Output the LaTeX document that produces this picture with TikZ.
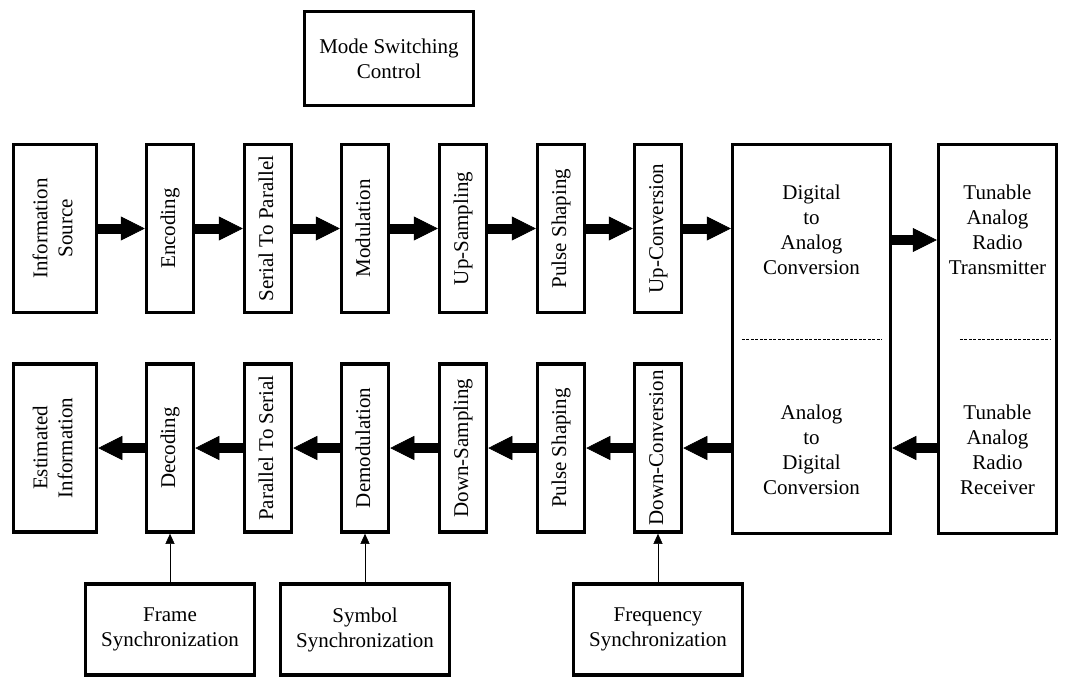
\documentclass[tikz,border=0pt]{standalone}
\usepackage{fontspec}
\setmainfont{Liberation Serif}
\usetikzlibrary{arrows.meta,positioning}
\newcommand{\vlabel}[1]{\rotatebox{90}{\begin{tabular}{@{}c@{}}#1\end{tabular}}}

\begin{document}
\begin{tikzpicture}[
  x=1pt, y=-1pt,
  every node/.style={font=\fontsize{21}{25}\selectfont, align=center},
  box/.style={draw, line width=3.5pt, inner sep=0pt},
  vbox/.style={box, minimum width=47pt, minimum height=168pt},
  syncbox/.style={box, minimum width=169pt, minimum height=91pt},
  bigarrow/.style={line width=10pt, -{Triangle[length=24pt, width=24pt, line width=0.5pt]}},
  syncarrow/.style={line width=1pt, -{Triangle[length=10pt, width=9pt, line width=0.5pt]}},
  sep/.style={line width=1pt, dash pattern=on 3pt off 1.5pt}
]
  \useasboundingbox (0,0) rectangle (1068,680);

  % Transmit chain
  \node (src) [box, minimum width=83pt, minimum height=168pt] at (55,228.5) {\vlabel{Information\\Source}};
  \node (enc) [vbox] at (170,228.5) {\vlabel{Encoding}};
  \node (s2p) [vbox] at (268,228.5) {\vlabel{Serial To Parallel}};
  \node (mod) [vbox] at (365,228.5) {\vlabel{Modulation}};
  \node (ups) [vbox] at (463,228.5) {\vlabel{Up-Sampling}};
  \node (pshape) [vbox] at (561,228.5) {\vlabel{Pulse Shaping}};
  \node (upconv) [vbox] at (658,228.5) {\vlabel{Up-Conversion}};

  % Converters and radio
  \node (dac) [box, minimum width=158pt, minimum height=389pt] at (811.5,339) {};
  \node (radio) [box, minimum width=118pt, minimum height=389pt] at (997.5,339) {};
  \node (dactext) at (811.5,230) {Digital\\to\\Analog\\Conversion};
  \node (adctext) at (811.5,450) {Analog\\to\\Digital\\Conversion};
  \node (txtext) at (997.5,230) {Tunable\\Analog\\Radio\\Transmitter};
  \node (rxtext) at (997.5,450) {Tunable\\Analog\\Radio\\Receiver};
  \coordinate (txlevel) at (0,240);
  \coordinate (rxlevel) at (0,448);

  \node (mode) [box, minimum width=169pt, minimum height=94pt] at (389,58.5) {Mode Switching\\Control};

  % Receive chain
  \node (est) [box, minimum width=83pt, minimum height=168pt] at (55,448) {\vlabel{Estimated\\Information}};
  \node (dec) [vbox] at (170,448) {\vlabel{Decoding}};
  \node (p2s) [vbox] at (268,448) {\vlabel{Parallel To Serial}};
  \node (demod) [vbox] at (365,448) {\vlabel{Demodulation}};
  \node (downs) [vbox] at (463,448) {\vlabel{Down-Sampling}};
  \node (pshapeb) [vbox] at (561,448) {\vlabel{Pulse Shaping}};
  \node (downconv) [vbox] at (658,448) {\vlabel{Down-Conversion}};

  % Synchronization
  \node (framesync) [syncbox] at (170,629.5) {Frame\\Synchronization};
  \node (symsync) [syncbox] at (365,629.5) {Symbol\\Synchronization};
  \node (freqsync) [syncbox] at (658,629.5) {Frequency\\Synchronization};

  % Paths
  \foreach \a/\b in {src/enc, enc/s2p, s2p/mod, mod/ups, ups/pshape, pshape/upconv}
    \draw [bigarrow] (\a) -- (\b);
  \draw [bigarrow] (upconv.east) -- (upconv.east -| dac.west);
  \draw [bigarrow] (dac.east |- txlevel) -- (radio.west |- txlevel);
  \draw [bigarrow] (radio.west |- rxlevel) -- (dac.east |- rxlevel);
  \draw [bigarrow] (dac.west |- downconv.east) -- (downconv.east);
  \foreach \a/\b in {downconv/pshapeb, pshapeb/downs, downs/demod, demod/p2s, p2s/dec, dec/est}
    \draw [bigarrow] (\a) -- (\b);

  \draw [sep] ([xshift=11pt]dac.west) -- ([xshift=-10pt]dac.east);
  \draw [sep] ([xshift=23pt]radio.west) -- ([xshift=-8pt]radio.east);

  \draw [syncarrow] (framesync) -- (dec);
  \draw [syncarrow] (symsync) -- (demod);
  \draw [syncarrow] (freqsync) -- (downconv);
\end{tikzpicture}
\end{document}
